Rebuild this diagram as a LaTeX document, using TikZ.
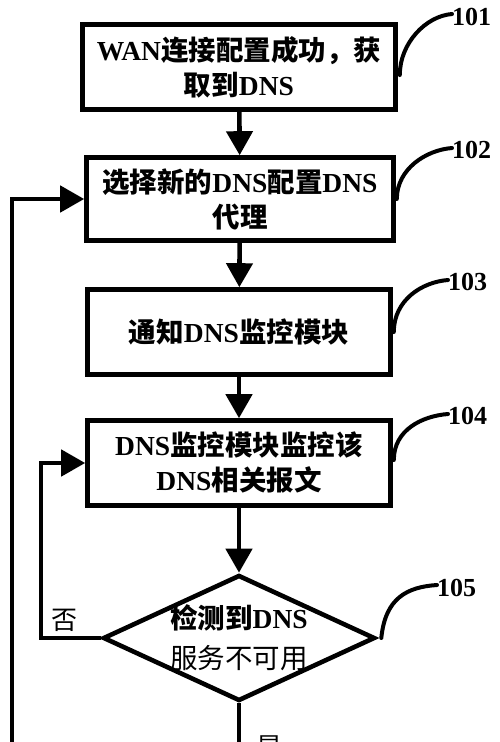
\documentclass[tikz,border=0pt]{standalone}
\usepackage{fontspec}
\setmainfont{Liberation Serif}
\newfontfamily\cjkf{Noto Sans CJK SC}
\newcommand\hz[1]{{\cjkf #1}}
\usetikzlibrary{arrows.meta,shapes.geometric}
\begin{document}
\begin{tikzpicture}[x=1pt,y=-1pt,
  stepbox/.style={draw, line width=4.6pt, rectangle, inner sep=0pt, align=center,
    font=\bfseries\fontsize{27.5}{35}\selectfont},
  decbox/.style={draw, line width=4.6pt, diamond, inner sep=0pt},
  txt/.style={align=center, inner sep=0pt, font=\bfseries\fontsize{27.5}{40}\selectfont},
  flow/.style={line width=4.6pt, -{Triangle[length=24pt,width=26pt]}},
  plain/.style={line width=4.6pt},
  lead/.style={line width=4pt, line cap=round},
  num/.style={font=\bfseries\fontsize{26}{30}\selectfont, inner sep=0pt, anchor=west}]
\useasboundingbox (0,0) rectangle (500,742);

\node[stepbox, minimum width=313pt, minimum height=85pt] (b1) at (239,67)
  {WAN\hz{连接配置成功，获}\\\hz{取到}DNS};
\node[stepbox, minimum width=307pt, minimum height=83pt] (b2) at (240,199)
  {\hz{选择新的}DNS\hz{配置}DNS\\\hz{代理}};
\node[stepbox, minimum width=303pt, minimum height=85pt] (b3) at (239,332)
  {\hz{通知}DNS\hz{监控模块}};
\node[stepbox, minimum width=303pt, minimum height=85pt] (b4) at (239,463)
  {DNS\hz{监控模块监控该}\\DNS\hz{相关报文}};
\node[decbox, minimum width=272pt, minimum height=126pt] (d) at (239,638) {};
\node[txt] (dt) at (239,638) {\hz{检测到}DNS\\{\mdseries\hz{服务不可用}}};

\node[num] (l1) at (452,17) {101};
\node[num] (l2) at (452,150) {102};
\node[num] (l3) at (448,282) {103};
\node[num] (l4) at (448,416) {104};
\node[num] (l5) at (437,588) {105};

\draw[lead] ([shift={(2pt,-8pt)}]b1.east) .. controls +(0,-32) and +(-26,2) .. ([yshift=3pt]l1.west);
\draw[lead] ([xshift=1pt]b2.east) .. controls +(0,-30) and +(-26,2) .. ([yshift=2pt]l2.west);
\draw[lead] ([xshift=1pt]b3.east) .. controls +(0,-32) and +(-26,2) .. ([yshift=2pt]l3.west);
\draw[lead] ([shift={(1pt,3pt)}]b4.east) .. controls +(0,-30) and +(-26,2) .. ([yshift=2pt]l4.west);
\draw[lead] ([xshift=4pt]d.east) .. controls +(4,-40) and +(-30,2) .. ([yshift=3pt]l5.west);

\draw[flow] (b1) -- (b2);
\draw[flow] (b2) -- (b3);
\draw[flow] (b3) -- (b4);
\draw[flow] (b4) -- (d);

\coordinate (o) at (12,760);
\draw[flow] (o) |- (b2.west);
\coordinate (k) at (41,463);
\draw[flow] (d.west) -| (k) -- (b4.west);
\coordinate (e) at (239,760);
\draw[plain] (d.south) -- (e);

\node[txt, font=\fontsize{26}{30}\selectfont] (no) at (64,620) {\hz{否}};
\node[txt, font=\fontsize{26}{30}\selectfont, anchor=north] (yes) at (269,736) {\hz{是}};
\end{tikzpicture}
\end{document}
